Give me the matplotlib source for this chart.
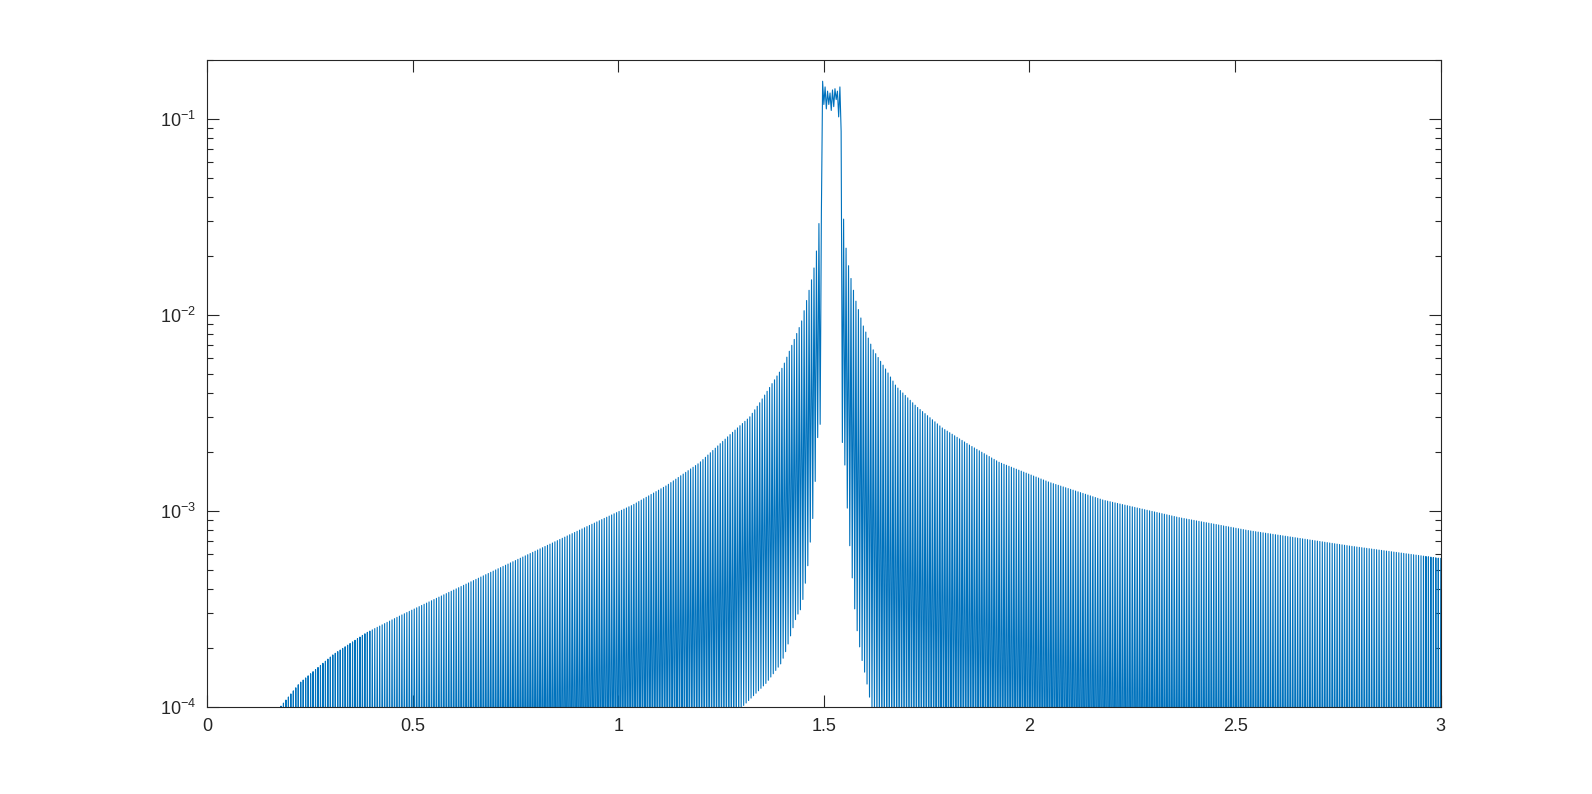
import numpy as np
import matplotlib.pyplot as plt
from matplotlib.ticker import LogLocator, NullFormatter

plt.rcParams['font.family'] = ['Liberation Sans', 'DejaVu Sans']
plt.rcParams['mathtext.fontset'] = 'custom'
plt.rcParams['mathtext.rm'] = 'Liberation Sans'
plt.rcParams['axes.unicode_minus'] = False

# upper envelope of the spectrum (peaks of the fast oscillation)
upper_x = [0.0, 0.15, 0.179, 0.2254, 0.3065, 0.3875, 0.4685, 0.712, 0.955, 1.036,
           1.117, 1.197, 1.279, 1.3195, 1.344, 1.40, 1.445, 1.469, 1.4775, 1.484,
           1.490, 1.545, 1.551, 1.557, 1.564, 1.5765, 1.595, 1.619, 1.652, 1.676,
           1.725, 1.789, 1.854, 1.927, 2.05, 2.18, 2.365, 2.534, 2.778, 3.0]
upper_y = [1e-5, 7e-5, 1.0e-4, 1.32e-4, 1.84e-4, 2.38e-4, 2.9e-4, 5.1e-4, 8.9e-4, 1.07e-3,
           1.34e-3, 1.75e-3, 2.52e-3, 3.0e-3, 3.55e-3, 5.4e-3, 9.1e-3, 1.47e-2, 1.79e-2, 2.27e-2,
           3.3e-2, 3.8e-2, 2.48e-2, 1.92e-2, 1.60e-2, 1.20e-2, 8.85e-3, 6.66e-3, 5.2e-3, 4.3e-3,
           3.4e-3, 2.63e-3, 2.16e-3, 1.76e-3, 1.39e-3, 1.13e-3, 9.2e-4, 7.9e-4, 6.6e-4, 5.7e-4]

# lower envelope (troughs), mostly below the axis floor
lower_x = [0.0, 1.28, 1.302, 1.36, 1.3966, 1.4087, 1.433, 1.446, 1.46, 1.475, 1.487,
           1.548, 1.56, 1.571, 1.577, 1.584, 1.591, 1.597, 1.604, 1.609, 1.616, 1.64, 3.0]
lower_y = [1e-6, 5e-5, 1.0e-4, 1.32e-4, 1.67e-4, 1.95e-4, 2.87e-4, 3.2e-4, 5e-4, 1.0e-3, 2.8e-3,
           2.2e-3, 8e-4, 4e-4, 2.8e-4, 2.2e-4, 1.8e-4, 1.57e-4, 1.34e-4, 1.17e-4, 1.0e-4, 5e-5, 1e-6]

# plateau samples, 1.497 .. 1.542 step 0.003
plateau_start = 1.497
plateau_y = [0.155, 0.118, 0.145, 0.112, 0.138, 0.118, 0.135, 0.11, 0.14, 0.115,
             0.142, 0.125, 0.138, 0.102, 0.145, 0.086]

dx = 0.003
x = np.round(np.arange(0, 3.0 + dx / 2, dx), 4)
up = 10 ** np.interp(x, upper_x, np.log10(upper_y))
lo = 10 ** np.interp(x, lower_x, np.log10(lower_y))
idx = np.arange(len(x))
y = np.where(idx % 2 == 0, up, lo)
i0 = int(round(plateau_start / dx))
y[i0:i0 + len(plateau_y)] = plateau_y

fig = plt.figure(figsize=(15.92, 7.94), dpi=100)
ax = fig.add_axes([0.13, 0.11, 0.775, 0.815])
ax.plot(x, y, color='#0072BD', lw=0.8)
ax.set_yscale('log')
ax.set_xlim(0, 3)
ax.set_ylim(1e-4, 0.2)
ax.set_xticks([0, 0.5, 1, 1.5, 2, 2.5, 3])
ax.set_xticklabels(['0', '0.5', '1', '1.5', '2', '2.5', '3'])
ax.yaxis.set_major_locator(LogLocator(base=10, numticks=10))
ax.yaxis.set_minor_locator(LogLocator(base=10, subs=np.arange(2, 10), numticks=20))
ax.yaxis.set_minor_formatter(NullFormatter())

for s in ax.spines.values():
    s.set_color('#262626')
    s.set_linewidth(0.8)
ax.tick_params(which='both', direction='in', top=True, right=True, colors='#262626',
               labelcolor='#262626', labelsize=13, width=0.8)
ax.tick_params(which='major', length=8.5, pad=8)
ax.tick_params(which='minor', length=4.5)

fig.savefig('out.png', dpi=100)
